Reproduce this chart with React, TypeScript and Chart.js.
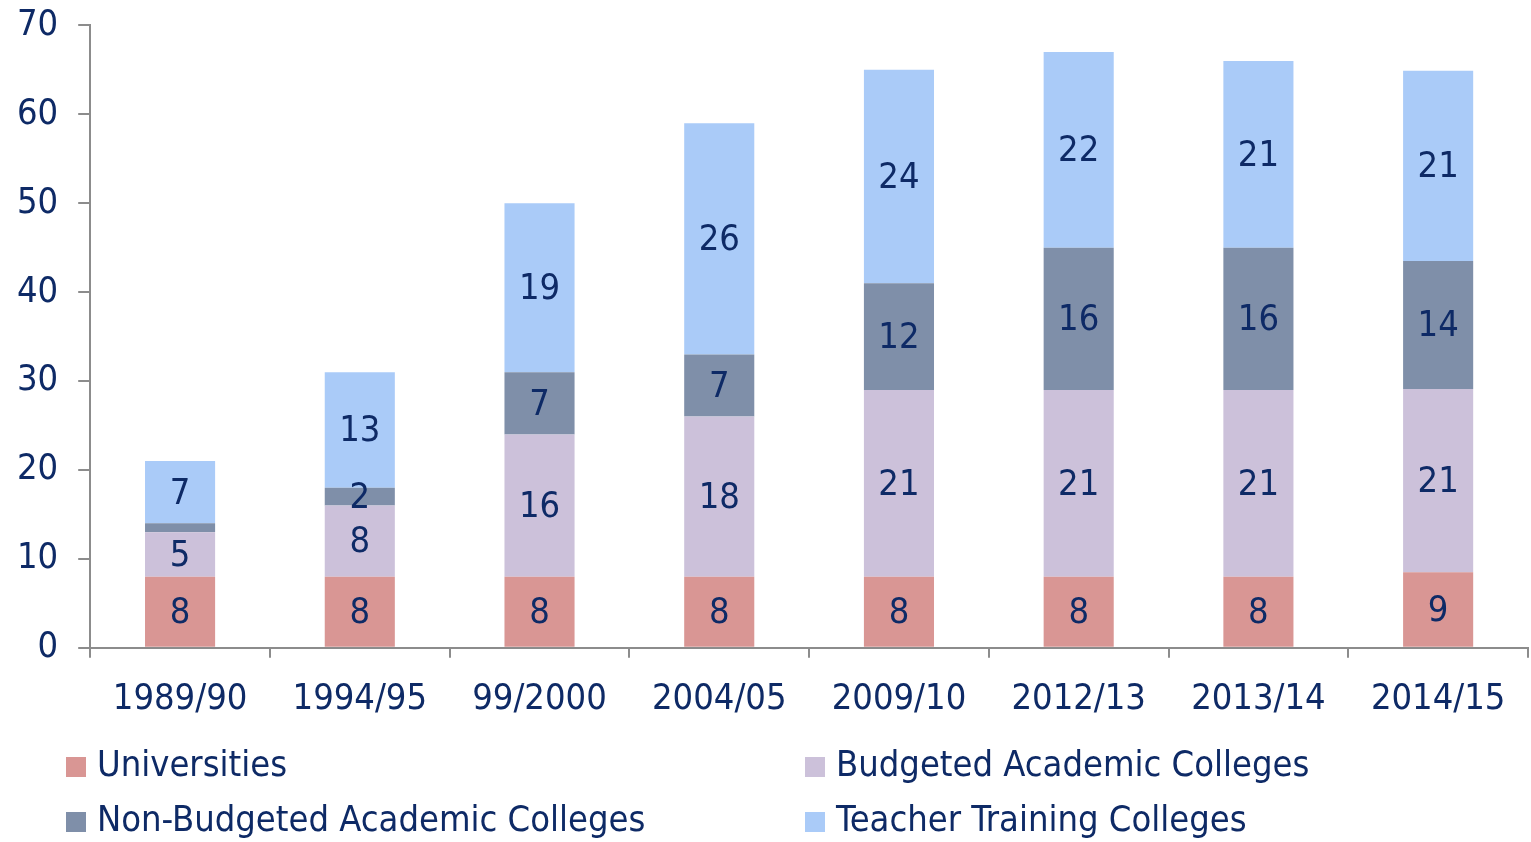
import React, { useEffect, useRef } from "react";
import { Chart, registerables } from "chart.js";

Chart.register(...registerables);

const categories = ["1989/90", "1994/95", "99/2000", "2004/05", "2009/10", "2012/13", "2013/14", "2014/15"];
const universities = [8, 8, 8, 8, 8, 8, 8, 8.5];
const budgeted = [5, 8, 16, 18, 21, 21, 21, 20.6];
const nonBudgeted = [1, 2, 7, 7, 12, 16, 16, 14.4];
const teacherTraining = [7, 13, 19, 26, 24, 22, 21, 21.4];
const yTicks = [0, 10, 20, 30, 40, 50, 60, 70];

const seriesNames = ["Universities", "Budgeted Academic Colleges", "Non-Budgeted Academic Colleges", "Teacher Training Colleges"];
const seriesColors = ["#D99694", "#CCC1DA", "#7F8FA9", "#AACBF8"];
const TEXT = "#0E2A66";
const AXIS = "#8C8C8C";
const FONT = "DejaVu Sans Condensed";
const FSIZE = 36;

const labelPlugin = {
  id: "segLabels",
  afterDatasetsDraw(chart: any) {
    const ctx = chart.ctx;
    ctx.save();
    ctx.font = `${FSIZE}px "${FONT}"`;
    ctx.fillStyle = TEXT;
    ctx.textAlign = "center";
    ctx.textBaseline = "middle";
    chart.data.datasets.forEach((ds: any, di: number) => {
      const meta = chart.getDatasetMeta(di);
      meta.data.forEach((el: any, i: number) => {
        const v = ds.data[i];
        if (v < 1.5) return;
        const y = (el.y + el.base) / 2;
        ctx.fillText(String(Math.round(v)), el.x, y + 2);
      });
    });
    ctx.restore();
  },
};

const legendPlugin = {
  id: "gridLegend",
  afterDraw(chart: any) {
    const ctx = chart.ctx;
    ctx.save();
    ctx.font = `${FSIZE}px "${FONT}"`;
    ctx.textBaseline = "middle";
    ctx.textAlign = "left";
    const cols = [66, 805];
    const rows = [767, 822];
    chart.data.datasets.forEach((ds: any, i: number) => {
      const col = i % 2 === 0 ? 0 : 1;
      const row = i < 2 ? 0 : 1;
      const x = cols[col];
      const y = rows[row];
      ctx.fillStyle = ds.backgroundColor;
      ctx.fillRect(x, y - 10, 20, 20);
      ctx.fillStyle = TEXT;
      ctx.fillText(ds.label, x + 31, y);
    });
    ctx.restore();
  },
};

export default function App() {
  const ref = useRef<HTMLCanvasElement | null>(null);
  useEffect(() => {
    document.body.style.margin = "0";
    if (!ref.current) return;
    const seriesData = [universities, budgeted, nonBudgeted, teacherTraining];
    const chart = new Chart(ref.current, {
      type: "bar",
      data: {
        labels: categories,
        datasets: seriesData.map((d, i) => ({
          label: seriesNames[i],
          data: d,
          backgroundColor: seriesColors[i],
          borderWidth: 0,
          barPercentage: 0.39,
          categoryPercentage: 1,
        })),
      },
      options: {
        responsive: false,
        animation: false,
        layout: { padding: { top: -4, left: -3, right: 3, bottom: 101 } },
        plugins: { legend: { display: false }, tooltip: { enabled: false } },
        scales: {
          x: {
            stacked: true,
            grid: { drawOnChartArea: false, drawTicks: true, tickLength: 10, color: AXIS, lineWidth: 2 },
            border: { color: AXIS, width: 2 },
            ticks: { color: TEXT, font: { family: FONT, size: FSIZE }, padding: 20, maxRotation: 0 },
          },
          y: {
            stacked: true,
            min: 0,
            max: 70,
            afterBuildTicks: (axis: any) => {
              axis.ticks = yTicks.map((v) => ({ value: v }));
            },
            grid: { drawOnChartArea: false, drawTicks: true, tickLength: 12, color: AXIS, lineWidth: 2 },
            border: { color: AXIS, width: 2 },
            ticks: { color: TEXT, font: { family: FONT, size: FSIZE, lineHeight: 0.3 }, padding: 20 },
          },
        },
      },
      plugins: [labelPlugin, legendPlugin],
    });
    return () => chart.destroy();
  }, []);
  return <canvas ref={ref} width={1531} height={842} style={{ display: "block" }} />;
}
